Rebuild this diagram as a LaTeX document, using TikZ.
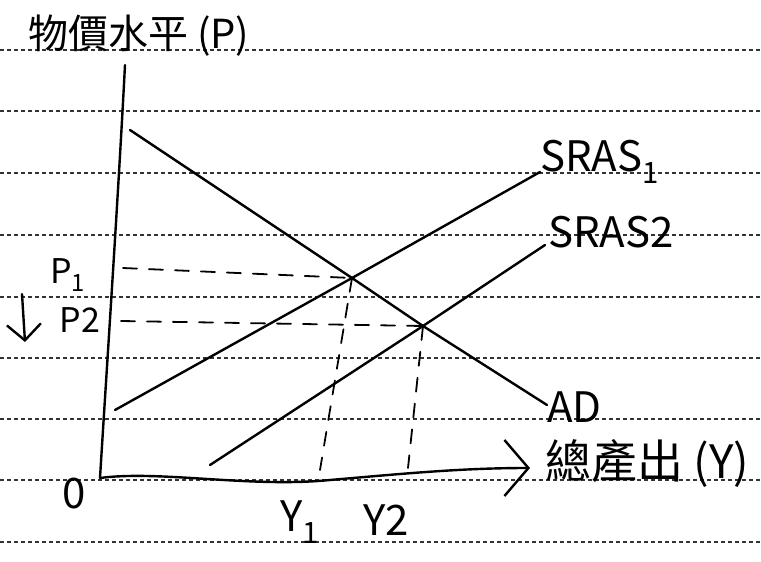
\documentclass[tikz,border=0pt]{standalone}
\usepackage{fontspec}
\setmainfont{Noto Sans CJK TC}
\usetikzlibrary{arrows.meta}
\begin{document}
\begin{tikzpicture}[x=1pt,y=-1pt,
  rule/.style={line width=1.3pt, dash pattern=on 4pt off 3pt, black!80},
  curve/.style={line width=2.4pt, line cap=round},
  guide/.style={line width=1.8pt, dash pattern=on 14pt off 12pt, line cap=round},
  lbl/.style={inner sep=0pt, anchor=center},
  big/.style={font=\fontsize{42}{42}\selectfont},
  mid/.style={font=\fontsize{34}{34}\selectfont},
  cjk/.style={font=\fontsize{40}{40}\selectfont}]
\useasboundingbox (0,0) rectangle (761,562);
\fill[white] (0,0) rectangle (761,562);
% ruled paper lines
\foreach \yy in {50,111,173,235,297,358,419,480,542}
  \draw[rule] (0,\yy) -- (761,\yy);
% coordinates
\coordinate (O) at (100,478);
\coordinate (ytop) at (125,65);
\coordinate (xend) at (530,468);
\coordinate (ad1) at (130,130);
\coordinate (ad2) at (547,405);
\coordinate (s1a) at (115,410);
\coordinate (s1b) at (540,172);
\coordinate (s2a) at (210,465);
\coordinate (s2b) at (545,245);
\coordinate (E1) at (352,278);
\coordinate (E2) at (423,326);
\coordinate (p1) at (123,268);
\coordinate (p2) at (121,321);
\coordinate (y1) at (320,470);
\coordinate (y2) at (408,468);
\coordinate (arrA) at (22,294);
\coordinate (arrB) at (25,342);
% axes
\draw[curve] (ytop) .. controls (118,200) and (106,380) .. (O);
\draw[curve, -{Straight Barb[length=24pt,width=56pt,line width=2.4pt]}]
  (O) .. controls (160,470) and (250,488) .. (330,480) .. controls (400,474) and (460,468) .. (xend);
% curves
\draw[curve] (ad1) -- (E1) -- (E2) -- (ad2);
\draw[curve] (s1a) -- (E1) -- (s1b);
\draw[curve] (s2a) -- (E2) -- (s2b);
% guides
\draw[guide] (p1) -- (E1);
\draw[guide] (p2) -- (E2);
\draw[guide] (E1) -- (y1);
\draw[guide] (E2) -- (y2);
% price fall arrow
\draw[curve, -{Straight Barb[length=16pt,width=34pt,line width=2.4pt]}] (arrA) -- (arrB);
% labels
\node[lbl, cjk, anchor=west] (ylab) at (28,36) {物價水平 (P)};
\node[lbl, font=\fontsize{46}{46}\selectfont, anchor=west] (xlab) at (545,463) {總產出 (Y)};
\node[lbl, big, anchor=west] (sras1) at (540,162) {SRAS\textsubscript{1}};
\node[lbl, big, anchor=west] (sras2) at (548,232) {SRAS2};
\node[lbl, big, anchor=west] (adlab) at (547,407) {AD};
\node[lbl, mid] (P1) at (68,275) {P\textsubscript{1}};
\node[lbl, mid] (P2) at (80,320) {P2};
\node[lbl, big] (zero) at (74,494) {0};
\node[lbl, big] (Y1) at (300,522) {Y\textsubscript{1}};
\node[lbl, big] (Y2) at (386,520) {Y2};
\end{tikzpicture}
\end{document}
